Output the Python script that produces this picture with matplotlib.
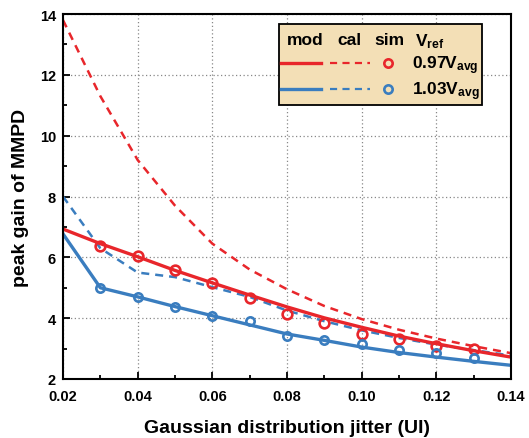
import matplotlib
matplotlib.use("Agg")
import matplotlib.pyplot as plt
from matplotlib.lines import Line2D
from matplotlib.patches import Rectangle
from matplotlib.ticker import MultipleLocator

plt.rcParams['font.family'] = ['Liberation Sans', 'DejaVu Sans']
plt.rcParams['font.weight'] = 'bold'
plt.rcParams['mathtext.fontset'] = 'custom'
plt.rcParams['mathtext.rm'] = 'Liberation Sans:bold'
plt.rcParams['mathtext.it'] = 'Liberation Sans:bold'
plt.rcParams['mathtext.bf'] = 'Liberation Sans:bold'

# data
jitter = [0.02, 0.03, 0.04, 0.05, 0.06, 0.07, 0.08, 0.09, 0.10, 0.11, 0.12, 0.13, 0.14]
mod_097 = [6.93, 6.45, 6.02, 5.57, 5.16, 4.76, 4.37, 4.01, 3.70, 3.41, 3.16, 2.93, 2.72]
cal_097 = [13.8, 11.3, 9.2, 7.7, 6.45, 5.6, 4.95, 4.4, 3.97, 3.62, 3.33, 3.08, 2.85]
mod_103 = [6.77, 5.0, 4.7, 4.38, 4.08, 3.78, 3.48, 3.27, 3.05, 2.87, 2.72, 2.58, 2.45]
cal_103 = [8.0, 6.3, 5.5, 5.35, 5.02, 4.7, 4.25, 3.9, 3.6, 3.35, 3.13, 2.95, 2.77]
sim_x = [0.03, 0.04, 0.05, 0.06, 0.07, 0.08, 0.09, 0.10, 0.11, 0.12, 0.13]
sim_097 = [6.38, 6.05, 5.58, 5.16, 4.66, 4.14, 3.84, 3.48, 3.32, 3.09, 2.98]
sim_103 = [5.0, 4.7, 4.37, 4.08, 3.9, 3.4, 3.28, 3.15, 2.95, 2.85, 2.69]

RED = '#e8262b'
BLUE = '#3a7dbf'

fig = plt.figure(figsize=(5.29, 4.39), dpi=100)
ax = fig.add_axes([63/529, 1-380/439, (511-63)/529, (380-15)/439])

ax.plot(jitter, cal_097, color=RED, lw=1.8, ls=(0, (3.2, 2.4)))
ax.plot(jitter, cal_103, color=BLUE, lw=1.8, ls=(0, (3.2, 2.4)))
ax.plot(jitter, mod_097, color=RED, lw=2.4)
ax.plot(jitter, mod_103, color=BLUE, lw=2.4)
ax.plot(sim_x, sim_097, ls='none', marker='o', ms=7, mfc='none', mec=RED, mew=1.9)
ax.plot(sim_x, sim_103, ls='none', marker='o', ms=6, mfc='none', mec=BLUE, mew=1.9)

ax.set_xlim(0.02, 0.14)
ax.set_ylim(2, 14)
ax.xaxis.set_major_locator(MultipleLocator(0.02))
ax.xaxis.set_minor_locator(MultipleLocator(0.01))
ax.yaxis.set_major_locator(MultipleLocator(2))
ax.yaxis.set_minor_locator(MultipleLocator(1))
ax.xaxis.set_major_formatter(matplotlib.ticker.FormatStrFormatter('%.2f'))
ax.tick_params(which='both', direction='in', top=False, right=False, labelsize=10.5, width=1.3)
ax.tick_params(which='major', length=5)
ax.tick_params(which='minor', length=3)
ax.tick_params(axis='x', which='major', pad=7)
ax.tick_params(axis='y', which='major', pad=5)
for lab in ax.get_xticklabels() + ax.get_yticklabels():
    lab.set_fontweight('bold')
for s in ax.spines.values():
    s.set_linewidth(1.5)
ax.grid(True, which='major', ls=(0, (1, 2)), color='#888888', lw=0.9)

ax.set_xlabel('Gaussian distribution jitter (UI)', fontsize=14, fontweight='bold', labelpad=12)
ax.set_ylabel('peak gain of MMPD', fontsize=14, fontweight='bold', labelpad=8)

# custom table legend (axes coords)
def fx(px):
    return (px - 63) / (511 - 63)

def fy(py):
    return (380 - py) / (380 - 15)

box = Rectangle((fx(279), fy(106)), fx(482) - fx(279), fy(25) - fy(106),
                transform=ax.transAxes, facecolor='#f3dfb6', edgecolor='black',
                lw=1.3, zorder=5)
ax.add_patch(box)
tk = dict(transform=ax.transAxes, fontsize=12.5, fontweight='bold', zorder=6,
          va='center')
ax.text(fx(305), fy(40), 'mod', ha='center', **tk)
ax.text(fx(349), fy(40), 'cal', ha='center', **tk)
ax.text(fx(389), fy(40), 'sim', ha='center', **tk)
ax.text(fx(415), fy(42), r'V$_{\mathrm{ref}}$', ha='left', **tk)
rows = [(64, RED, '0.97'), (90, BLUE, '1.03')]
for py, c, lab in rows:
    ax.add_line(Line2D([fx(281), fx(321)], [fy(py), fy(py)], color=c, lw=2.4,
                       transform=ax.transAxes, zorder=6))
    ax.add_line(Line2D([fx(330), fx(370)], [fy(py), fy(py)], color=c, lw=1.6,
                       ls=(0, (3.2, 2.4)), transform=ax.transAxes, zorder=6))
    ax.add_line(Line2D([fx(388)], [fy(py)], color=c, marker='o', ms=6, mfc='none',
                       mew=1.9, ls='none', transform=ax.transAxes, zorder=6))
    ax.text(fx(412), fy(py + 2), lab + r'V$_{\mathrm{avg}}$', ha='left', **tk)

fig.savefig('out.png', dpi=100)
